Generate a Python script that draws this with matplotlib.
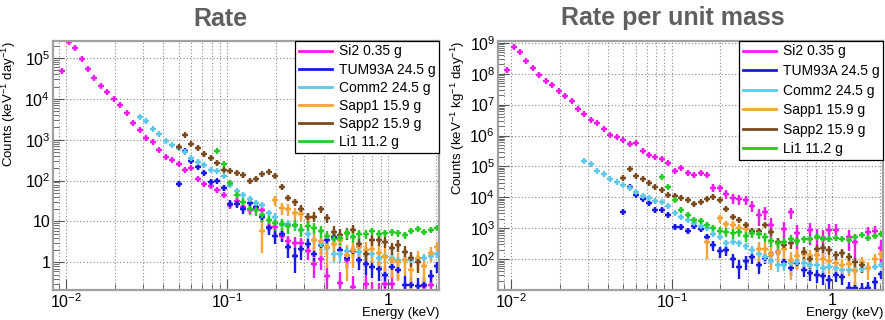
import numpy as np
import matplotlib
matplotlib.use("Agg")
import matplotlib.pyplot as plt
from matplotlib.lines import Line2D
from matplotlib.ticker import LogLocator, NullFormatter, FixedLocator, FixedFormatter

nan = float("nan")

# ---------------- data ----------------
energy_keV = [0.00942, 0.01033, 0.01133, 0.01243, 0.01364, 0.01496, 0.01641, 0.01800, 0.01975, 0.02166,
              0.02377, 0.02607, 0.02860, 0.03137, 0.03442, 0.03776, 0.04142, 0.04544, 0.04985, 0.05468,
              0.05998, 0.06580, 0.07219, 0.07919, 0.08687, 0.09528, 0.1045, 0.1147, 0.1258, 0.1380,
              0.1514, 0.1660, 0.1822, 0.1998, 0.2192, 0.2404, 0.2638, 0.2894, 0.3174, 0.3482,
              0.3819, 0.4190, 0.4596, 0.5042, 0.5531, 0.6067, 0.6656, 0.7301, 0.8010, 0.8786,
              0.9638, 1.057, 1.160, 1.272, 1.396, 1.531, 1.680, 1.843, 2.021]

detectors = ["Si2", "TUM93A", "Comm2", "Sapp1", "Sapp2", "Li1"]
mass_g = [0.35, 24.5, 24.5, 15.9, 15.9, 11.2]
colors = ["#f21af0", "#1a1ae6", "#5cc8ea", "#f7a432", "#7b4a1e", "#22cc22"]
first_bin = [0, 18, 12, 31, 18, 24]
exposure_days = [110, 80, 90, 22, 35, 50]

# rate in counts / keV / day
si2_rate = [4.7e4, 2.5e5, 1.8e5, 9.3e4, 5.4e4, 3.3e4, 2.1e4, 1.5e4, 1.0e4, 6900,
            4500, 2600, 1700, 1100, 870, 560, 370, 320, 250, 180,
            200, 112, 83, 72, 59, 44, 25, 32, 22, 19,
            21, 19, 7.2, 7.2, 4.5, 3.3, 3.0, 2.9, 1.9, 0.91,
            1.2, 0.45, nan, 0.32, 1.15, 0.25, nan, 0.30, 0.18, 0.17,
            0.30, 0.30, nan, 0.18, 0.13, nan, 0.26, 0.28, 0.08]
tum93a_rate = [83, 525, 300, 220, 155, 93, 98, 65, 27, 27,
               20, 28, 23, 12.6, 6.9, 4.5, 4.8, 2.4, 1.4, 2.1,
               2.8, 1.6, 2.6, 3.5, 4.2, 2.0, 1.26, 1.9, 1.12, 0.89,
               0.76, 0.68, 0.50, 0.76, 0.63, 0.28, 0.28, 0.26, 0.28, 0.45, 0.79]
comm2_rate = [3700, 2950, 1800, 1400, 930, 760, 630, 500, 360, 280,
              240, 180, 175, 126, 76, 56, 45, 36, 28, 25,
              16, 13, 8.3, 8.9, 7.9, 6.3, 5.0, 3.5, 2.8, 2.2,
              1.6, 1.6, 1.9, 2.0, 1.8, 1.6, 1.6, 1.26, 1.4, 1.26,
              1.12, 1.12, 1.12, 1.2, 1.26, 1.4, 1.6]
sapp1_rate = [5.8, nan, 33, 21, 20, 16, 15.5, 12, 3.5, 3.4,
              2.4, 2.8, 3.5, 1.5, 2.0, 2.4, 2.0, 2.1, 1.66, 1.38,
              1.15, 1.0, 1.12, 0.65, 1.26, 0.81, 1.66, 2.4]
sapp2_rate = [660, 1290, 780, 630, 450, 355, 275, 186, 174, 151,
              135, 95, 110, 141, 166, 126, 68, 38, 30, 20,
              12.6, 13.2, 20, 12, 5.6, 4.7, 5.2, 6.3, 2.8, 1.6,
              3.5, 3.6, 3.2, 2.2, 2.6, 1.8, 1.26, 1.0]
li1_rate = [525, 250, 89, 45, 30, 20, 18.6, 14, 11, 9.1,
            8.7, 7.6, 8.3, 6.3, 7.6, 7.1, 5.8, 4.3, 3.7, 4.0,
            5.2, 4.2, 5.0, 5.0, 5.8, 5.0, 5.2, 5.4, 5.2, 4.6,
            6.0, 6.6, 5.5, 6.3, 7.1]
rates = [si2_rate, tum93a_rate, comm2_rate, sapp1_rate, sapp2_rate, li1_rate]

x_ticks = [0.01, 0.1, 1]
x_ticklabels = ["$10^{-2}$", "$10^{-1}$", "1"]
left_yticks = [1, 10, 100, 1e3, 1e4, 1e5]
left_yticklabels = ["1", "10", "$10^{2}$", "$10^{3}$", "$10^{4}$", "$10^{5}$"]
right_yticks = [1e2, 1e3, 1e4, 1e5, 1e6, 1e7, 1e8, 1e9]
right_yticklabels = ["$10^{2}$", "$10^{3}$", "$10^{4}$", "$10^{5}$", "$10^{6}$", "$10^{7}$", "$10^{8}$", "$10^{9}$"]

# ---------------- style ----------------
plt.rcParams["font.family"] = ["Liberation Sans", "DejaVu Sans"]
plt.rcParams["mathtext.fontset"] = "custom"
plt.rcParams["mathtext.rm"] = "Liberation Sans"
plt.rcParams["mathtext.it"] = "Liberation Sans:italic"
plt.rcParams["mathtext.bf"] = "Liberation Sans:bold"

W, H = 885, 320
fig = plt.figure(figsize=(W / 100, H / 100), dpi=100)

def frac(x0, y0, x1, y1):
    return [x0 / W, 1 - y1 / H, (x1 - x0) / W, (y1 - y0) / H]

axL = fig.add_axes(frac(53, 41, 439, 290))
axR = fig.add_axes(frac(498, 41, 883, 290))

centers = np.array(energy_keV)
logc = np.log10(centers)
mid = 0.5 * (logc[1:] + logc[:-1])
edges = np.concatenate([[logc[0] - (mid[0] - logc[0])], mid, [logc[-1] + (logc[-1] - mid[-1])]])
lo_edge = 10 ** edges[:-1]
hi_edge = 10 ** edges[1:]
bar_frac = 0.62  # drawn fraction of the bin width for the horizontal bar

def draw(ax, per_mass):
    for name, m, col, fb, T, r in zip(detectors, mass_g, colors, first_bin, exposure_days, rates):
        r = np.array(r, dtype=float)
        n = len(r)
        x = centers[fb:fb + n]
        lo = lo_edge[fb:fb + n]
        hi = hi_edge[fb:fb + n]
        width = hi - lo
        sig = np.sqrt(r / (width * T))
        scale = 1000.0 / m if per_mass else 1.0
        y = r * scale
        s = sig * scale
        ylo = np.maximum(y - s, 1e-9)
        ok = ~np.isnan(y)
        xl = x - x * (x / lo) ** (-bar_frac)
        xh = x * (hi / x) ** bar_frac - x
        ax.errorbar(x[ok], y[ok], xerr=[xl[ok], xh[ok]],
                    yerr=[(y - ylo)[ok], s[ok]], fmt="+", color=col, ecolor=col,
                    markersize=5, markeredgewidth=1.7,
                    elinewidth=1.7, capsize=0)

for ax, per_mass in ((axL, False), (axR, True)):
    ax.set_xscale("log")
    ax.set_yscale("log")
    draw(ax, per_mass)
    ax.set_xlim(10 ** -2.083, 10 ** 0.318)
    ax.xaxis.set_major_locator(FixedLocator(x_ticks))
    ax.xaxis.set_major_formatter(FixedFormatter(x_ticklabels))
    ax.xaxis.set_minor_locator(LogLocator(base=10, subs=np.arange(2, 10), numticks=20))
    ax.xaxis.set_minor_formatter(NullFormatter())
    ax.yaxis.set_minor_locator(LogLocator(base=10, subs=np.arange(2, 10), numticks=20))
    ax.yaxis.set_minor_formatter(NullFormatter())
    ax.grid(True, which="major", axis="both", color="#888888", linestyle=(0, (1, 2)), linewidth=0.8)
    ax.grid(True, which="minor", axis="x", color="#888888", linestyle=(0, (1, 2)), linewidth=0.8)
    ax.set_axisbelow(True)
    ax.tick_params(which="both", direction="in", top=False, right=False, labelsize=11.5, colors="#555555",
                   labelcolor="black")
    ax.tick_params(axis="x", which="major", length=8, pad=2)
    ax.tick_params(axis="x", which="minor", length=4)
    ax.tick_params(axis="y", which="major", length=8, pad=2)
    ax.tick_params(axis="y", which="minor", length=4)
    for sp in ax.spines.values():
        sp.set_color("#a0a0a0")
        sp.set_linewidth(1.6)
    ax.set_xlabel("Energy (keV)", fontsize=9.5, ha="right")
    ax.xaxis.set_label_coords(1.0, -(313 - 290) / 249, transform=ax.transAxes)
    ax.xaxis.label.set_va("center")

axL.set_ylim(10 ** -0.678, 10 ** 5.416)
axL.yaxis.set_major_locator(FixedLocator(left_yticks))
axL.yaxis.set_major_formatter(FixedFormatter(left_yticklabels))
axL.set_ylabel("Counts (keV$^{-1}$ day$^{-1}$)", fontsize=9.5, ha="right")
axL.yaxis.set_label_coords(-(53 - 18) / 386, 1.0)

axR.set_ylim(10 ** 1.0, 10 ** 9.06)
axR.yaxis.set_major_locator(FixedLocator(right_yticks))
axR.yaxis.set_major_formatter(FixedFormatter(right_yticklabels))
axR.set_ylabel("Counts (keV$^{-1}$ kg$^{-1}$ day$^{-1}$)", fontsize=9.5, ha="right")
axR.yaxis.set_label_coords(-(498 - 467) / 385, 1.0)

handles = [Line2D([], [], color=c, lw=2) for c in colors]
labels = [f"{d} {m:g} g" for d, m in zip(detectors, mass_g)]
for ax, spacing in ((axL, 0.30), (axR, 0.40)):
    leg = ax.legend(handles, labels, loc="upper right", bbox_to_anchor=(1.0, 1.0), fontsize=10,
                    frameon=True, fancybox=False, edgecolor="black", framealpha=1, borderpad=0.25,
                    handlelength=2.4, handletextpad=0.5, labelspacing=spacing, borderaxespad=0)
    leg.get_frame().set_linewidth(0.9)
    leg.set_zorder(5)

fig.text(220 / W, 1 - 18.5 / H, "Rate", ha="center", va="center", fontsize=18, weight="bold", color="#5f5f5f")
fig.text(673 / W, 1 - 18.5 / H, "Rate per unit mass", ha="center", va="center", fontsize=18,
         weight="bold", color="#5f5f5f")

fig.savefig("out.png", dpi=100)
